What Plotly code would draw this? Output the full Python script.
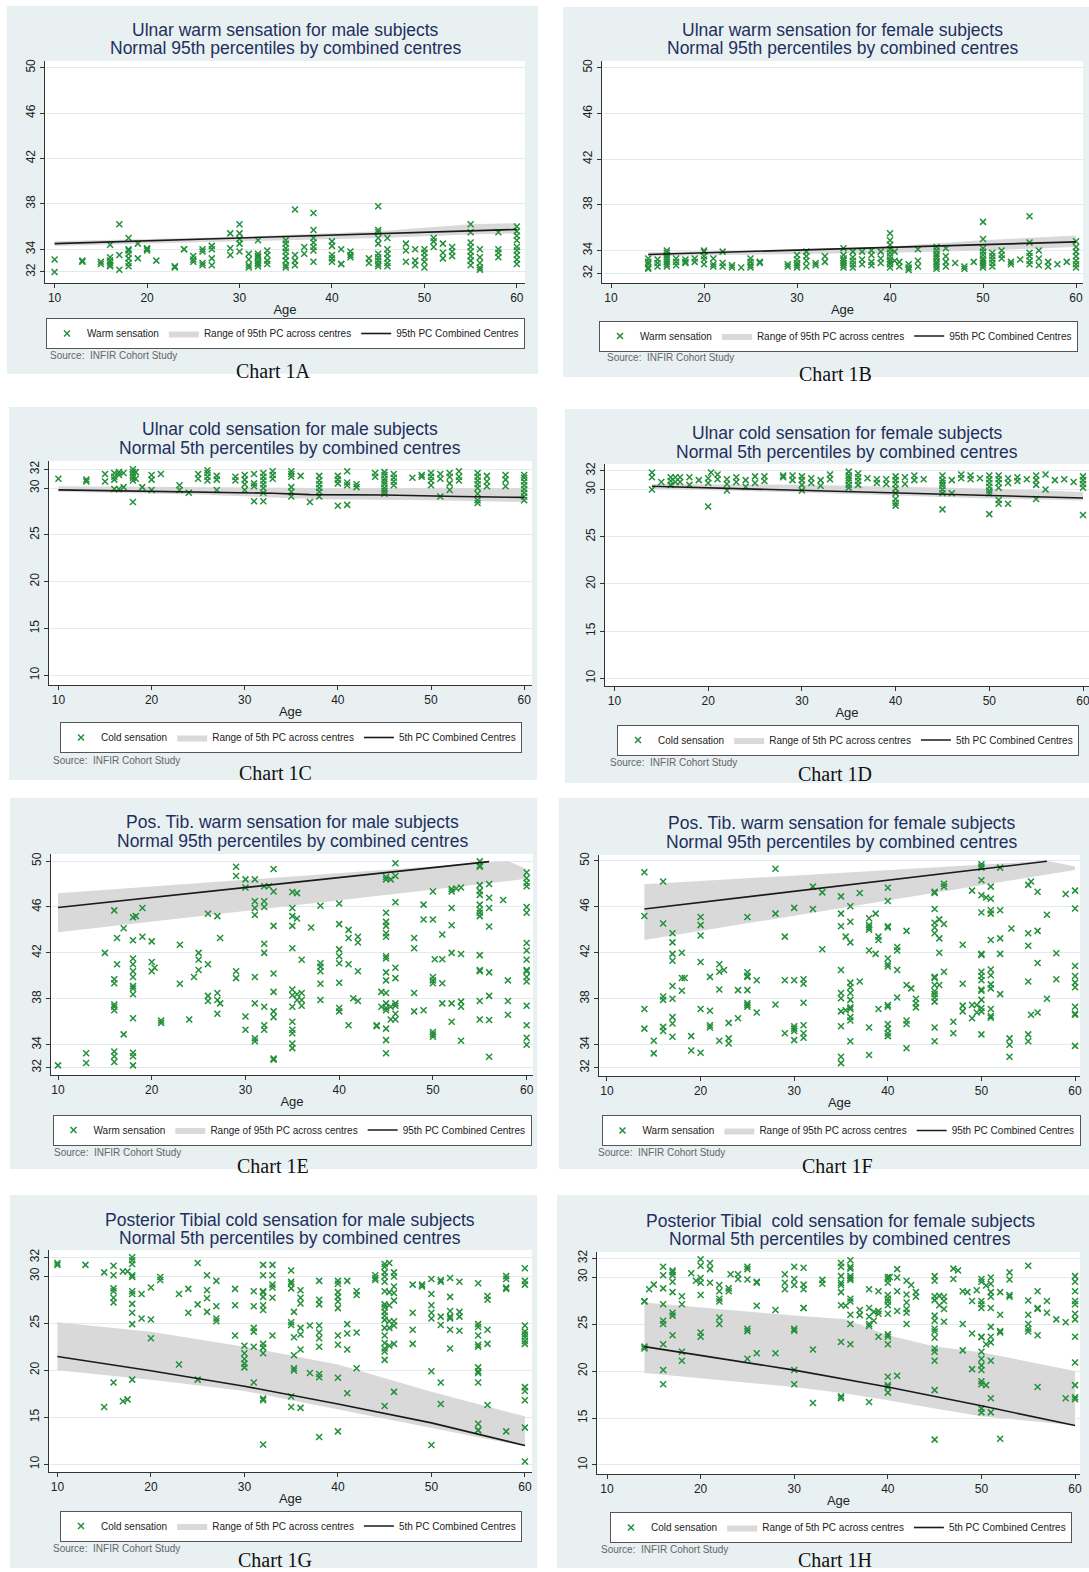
import plotly.graph_objects as go

W, H = 1089, 1572
SANS = "Liberation Sans, Arial, Helvetica, sans-serif"
SERIF = "Liberation Serif, Times New Roman, serif"
GREEN = "#24903a"
BAND = "#d9d9d9"
PANEL_BG = "#e8f0f2"
TITLE_C = "#1f2f5c"

WARM_TICKS = [32, 34, 38, 42, 46, 50]
COLD_TICKS = [10, 15, 20, 25, 30, 32]
X_TICKS = [10, 20, 30, 40, 50, 60]

# ---------------- 1A Ulnar warm, male ----------------
ages_1a = [10, 13, 15, 16, 17, 18, 19, 20, 21, 23, 24, 25, 26, 27, 29, 30, 31, 32, 33, 35,
           36, 37, 38, 40, 41, 42, 44, 45, 46, 48, 49, 50, 51, 52, 53, 55, 56, 58, 60]
vals_1a = [[32.0, 33.1], [32.9, 33.0], [32.7, 32.9], [34.4, 33.3, 33.0, 32.8, 32.6, 32.5],
           [36.2, 33.5, 32.2], [35.0, 34.0, 33.9, 33.6, 33.2, 32.8, 32.5], [34.5, 33.2],
           [34.0, 34.1, 33.9], [33.0], [32.5, 32.4], [34.0, 34.0], [33.4, 32.9, 33.1],
           [34.0, 33.8, 32.8, 32.6], [34.3, 34.0, 33.2, 32.6], [35.4, 34.1, 33.5],
           [36.2, 35.4, 34.9, 34.5, 33.8], [33.6, 33.1, 32.6, 32.4],
           [34.8, 33.6, 33.4, 33.3, 33.0, 32.8, 32.7, 32.5], [33.9, 33.5, 33.0, 32.7],
           [34.8, 34.5, 34.1, 33.8, 33.4, 33.0, 32.6, 32.4], [37.5, 33.5, 33.0, 32.6],
           [34.2, 33.6], [37.2, 35.7, 35.0, 34.6, 34.2, 33.9, 32.9], [34.7, 34.3, 33.5, 33.2, 32.9],
           [34.0, 32.7, 32.7], [33.8, 33.5, 33.3], [32.8, 33.2],
           [37.8, 35.7, 35.5, 35.0, 34.5, 33.6, 33.3, 33.0, 32.7, 32.5],
           [35.0, 34.0, 33.6, 33.2, 32.8, 32.5], [34.5, 33.9, 32.9], [34.0, 33.0, 32.6],
           [34.0, 33.7, 33.3, 32.9, 32.4], [35.0, 34.7, 34.2], [34.5, 33.7, 33.2], [34.2, 33.8, 33.4],
           [36.2, 35.5, 34.6, 34.2, 33.8, 33.4, 33.0, 32.6], [34.0, 33.3, 32.8, 32.4, 32.2],
           [35.5, 34.0, 33.7, 33.3], [36.0, 35.6, 35.2, 34.8, 34.2, 33.9, 33.5, 33.1, 32.7]]
band_x_1a = [10, 30, 45, 55, 60]
band_hi_1a = [34.7, 35.1, 35.6, 36.2, 36.3]
band_lo_1a = [34.3, 34.7, 35.0, 35.3, 35.4]
line_x_1a = [10, 60]
line_y_1a = [34.5, 35.75]

# ---------------- 1B Ulnar warm, female ----------------
ages_1b = [14, 15, 16, 17, 18, 19, 20, 21, 22, 23, 24, 25, 26, 29, 30, 31, 32, 33, 35, 36, 37,
           38, 39, 40, 40.5, 41, 42, 43, 45, 46, 47, 48, 49, 50, 51, 52, 53, 54, 55, 56, 57, 58, 59, 60]
vals_1b = [[33.3, 33.0, 32.8, 32.5, 32.4], [33.2, 32.9, 32.6],
           [34.0, 33.8, 33.6, 33.4, 33.2, 33.0, 32.8, 32.6], [33.3, 33.0, 32.7], [33.2, 32.9, 33.0],
           [33.3, 33.0], [34.0, 33.9, 33.5, 33.2, 32.8], [33.3, 32.8, 32.6], [33.9, 32.9, 32.6],
           [32.7, 32.5], [32.5], [33.3, 33.0, 32.7, 32.5], [33.0, 32.9], [32.8, 32.6],
           [33.6, 33.2, 32.9, 32.7, 32.5], [33.9, 33.5, 33.1, 32.6], [32.9, 32.7], [33.5, 33.0],
           [34.2, 33.6, 33.3, 33.1, 32.9, 32.7, 32.5], [33.9, 33.4, 33.1, 32.8, 32.5],
           [33.9, 33.2, 32.8], [34.0, 33.6, 33.0, 32.7], [33.9, 33.3, 32.9],
           [35.5, 34.9, 34.5, 34.1, 33.8, 33.5, 33.2, 33.0, 32.8, 32.5], [33.9, 33.1], [33.0, 32.6],
           [32.8, 32.5, 32.3], [34.1, 33.1, 32.6], [34.3, 34.0, 33.7, 33.5, 33.3, 33.0, 32.8, 32.6, 32.4],
           [34.2, 33.5, 33.0, 32.6], [32.9], [32.6, 32.4], [33.0],
           [36.5, 35.0, 34.2, 33.9, 33.6, 33.3, 33.1, 32.9, 32.7, 32.5], [33.8, 33.5, 33.2, 32.9, 32.6],
           [34.0, 33.6, 33.3], [33.0, 32.8], [33.2], [37.0, 34.7, 33.8, 33.5, 33.1, 32.8],
           [34.0, 33.3, 32.7], [33.0, 32.6], [32.8], [33.0], [34.8, 34.3, 33.9, 33.5, 33.1, 32.8, 32.5]]
band_x_1b = [14, 30, 40, 50, 60]
band_hi_1b = [33.85, 34.1, 34.35, 34.9, 35.3]
band_lo_1b = [33.5, 33.7, 33.8, 34.0, 34.3]
line_x_1b = [14, 60]
line_y_1b = [33.65, 34.75]

# ---------------- 1C Ulnar cold, male ----------------
ages_1c = [10, 13, 15, 16, 16.5, 17, 18, 18.3, 19, 20, 21, 23, 24, 25, 26, 27, 29, 30, 31, 32, 33,
           35, 36, 37, 38, 40, 41, 42, 44, 45, 46, 48, 49, 50, 51, 52, 53, 55, 56, 58, 60]
vals_1c = [[31.0], [30.9, 30.7], [31.5, 30.7], [31.6, 31.2, 30.9, 29.9], [31.7, 31.4, 29.9],
           [31.6, 30.1], [32.0, 31.7, 31.4, 31.1, 30.8, 28.5], [31.7, 31.0], [30.1],
           [31.4, 30.9, 29.8], [31.5], [30.3, 29.8], [29.5], [31.5, 31.0], [31.9, 31.6, 31.2, 30.8],
           [31.3, 30.9, 29.8], [31.2, 30.8], [31.4, 30.9, 30.4, 29.8], [31.5, 30.5, 30.2, 28.6],
           [31.6, 31.2, 30.8, 30.4, 30.0, 29.5, 28.6], [31.8, 31.4, 31.0],
           [31.8, 31.5, 31.2, 30.1, 29.6, 29.1], [31.3], [28.5], [31.3, 30.8, 30.4, 30.0, 29.6, 29.1],
           [31.3, 30.9, 30.5, 28.1], [31.8, 30.6, 30.3, 28.2], [30.4, 30.1], [31.6, 31.2],
           [31.7, 31.4, 31.0, 30.7, 30.4, 30.0, 29.7, 29.4], [31.5, 31.1, 30.7, 30.3], [31.1],
           [31.4, 31.2], [31.6, 31.2, 30.8, 30.3], [31.5, 31.0, 29.1], [31.6, 31.2, 30.5, 29.8],
           [31.8, 31.2, 30.8], [31.6, 31.2, 30.8, 30.4, 30.0, 29.4, 28.7, 28.4], [31.3, 30.7, 30.2],
           [31.4, 30.9, 30.2], [31.4, 31.1, 30.7, 30.3, 29.9, 29.5, 29.1, 28.7]]
band_x_1c = [10, 25, 38, 50, 60]
band_hi_1c = [30.2, 30.1, 30.0, 30.0, 30.0]
band_lo_1c = [29.6, 29.3, 28.8, 28.7, 28.5]
line_x_1c = [10, 13, 23, 33, 37, 45, 53, 60]
line_y_1c = [29.8, 29.75, 29.6, 29.45, 29.3, 29.25, 29.1, 29.0]

# ---------------- 1D Ulnar cold, female ----------------
ages_1d = [14, 15, 16, 16.5, 17, 18, 19, 20, 20.3, 21, 22, 23, 24, 25, 26, 28, 29, 30, 31, 32,
           33, 35, 36, 37, 38, 39, 40, 41, 42, 43, 45, 46, 47, 48, 49, 50, 51, 52, 53, 54,
           55, 56, 57, 58, 59, 60]
vals_1d = [[31.8, 31.3, 30.0], [30.8], [31.3, 30.9, 30.5], [31.3, 30.8], [31.3, 30.8], [31.3, 30.5],
           [31.0], [31.2, 30.7, 28.2], [31.8], [31.6, 31.1], [31.1, 30.6, 29.9], [31.3, 30.8],
           [31.0, 30.3], [31.4, 30.7], [31.4, 30.9], [31.5, 31.3], [31.5, 31.0],
           [31.4, 31.0, 30.5, 29.9], [31.2, 30.7], [31.0, 30.4], [31.6, 31.1],
           [31.9, 31.5, 31.2, 30.9, 30.5, 30.2], [31.7, 31.3, 30.9, 30.5], [31.2], [31.1, 30.7],
           [31.1, 30.6], [31.4, 31.0, 30.6, 30.1, 29.6, 29.0, 28.6, 28.3], [31.3, 30.6], [31.5, 31.0],
           [31.1], [31.5, 31.0, 30.7, 30.4, 30.0, 29.6, 27.9], [31.0, 29.6], [31.6, 31.2], [31.5, 31.1],
           [31.2], [31.5, 31.1, 30.7, 30.3, 29.9, 29.6, 27.4], [31.5, 31.1, 30.7, 30.2, 28.9, 28.5],
           [31.2, 30.7, 28.5], [31.3, 30.9], [31.1], [31.5, 31.0, 30.5, 29.0], [31.6, 30.0], [31.0],
           [31.1], [30.8], [31.4, 31.0, 30.6, 30.2, 27.3]]
band_x_1d = [14, 30, 40, 50, 60]
band_hi_1d = [30.6, 30.5, 30.3, 30.1, 29.75]
band_lo_1d = [30.05, 29.7, 29.35, 29.05, 28.85]
line_x_1d = [14, 60]
line_y_1d = [30.35, 29.1]

# ---------------- 1E Pos. Tib. warm, male ----------------
ages_1e = [10, 13, 15, 16, 16.3, 17, 18, 18.3, 19, 20, 20.3, 21, 23, 24, 24.5, 25, 26, 27, 27.3, 29,
           30, 31, 32, 32.5, 33, 35, 35.5, 36, 37, 38, 40, 41, 41.5, 42, 44, 44.5, 45, 45.5, 46, 48,
           49, 50, 50.2, 51, 52, 52.5, 53, 55, 56, 57.5, 58, 60]
vals_1e = [[32.2], [32.4, 33.25], [42.0], [45.7, 39.7, 39.35, 37.5, 37.0, 37.3, 33.4, 33.0, 32.5],
           [43.3, 41.0], [44.15, 34.9],
           [45.1, 43.1, 41.5, 41.0, 40.4, 39.9, 39.1, 38.9, 38.4, 36.3, 33.3, 33.0, 32.2],
           [45.2], [45.9, 43.4], [43.0, 41.2, 40.4], [40.7], [35.9, 36.1], [42.7, 39.3], [36.2],
           [39.9], [41.4, 42.0, 40.5], [41.0, 38.25, 37.8, 45.4], [45.2, 38.5, 37.9, 36.7],
           [43.3, 37.6], [49.5, 48.7, 40.4, 39.8], [48.4, 47.7, 36.45, 35.3],
           [48.4, 46.5, 45.9, 45.3, 39.9, 37.6, 34.55, 34.3],
           [47.8, 46.5, 46.0, 42.8, 42.0, 37.3, 35.7, 35.3], [47.8],
           [47.35, 49.3, 44.35, 38.6, 36.4, 32.8, 32.7, 36.9, 40.2],
           [47.3, 45.9, 45.2, 44.35, 42.4, 38.8, 38.3, 37.3, 36.0, 35.3, 35.0, 34.1, 33.7],
           [47.2, 45.0, 38.4, 37.9], [41.4, 38.5, 37.9, 37.4], [44.2],
           [46.1, 41.1, 40.8, 40.4, 39.3, 37.9], [46.3, 44.5, 42.3, 41.7, 41.1, 39.4, 37.2, 36.9],
           [44.0, 43.3, 41.0, 35.7], [38.05], [43.4, 42.9, 40.4, 37.8], [35.7, 35.6], [38.6, 37.3],
           [48.6, 48.4, 45.5, 44.7, 44.35, 43.7, 43.4, 41.7, 41.5, 40.3, 39.6, 38.5, 37.6, 37.2,
            37.0, 35.4, 34.4, 33.25],
           [48.4, 37.3, 36.2], [49.8, 48.7, 46.4, 40.7, 39.8, 37.6, 37.4, 36.7, 36.2],
           [43.3, 42.4, 38.5, 36.9], [46.2, 44.9, 37.0], [47.35, 44.9, 39.9, 39.6, 39.35, 35.1, 34.9, 34.7],
           [41.45], [43.6, 41.45, 39.35, 37.6], [47.35, 47.55, 45.9, 44.4, 42.0, 37.6, 36.0], [47.6],
           [47.7, 41.9, 37.75, 37.3, 34.35],
           [47.9, 47.4, 47.05, 46.2, 45.75, 45.5, 45.2, 41.8, 40.5, 40.4, 37.8, 36.2, 49.97, 49.6, 49.5],
           [48.0, 46.8, 45.9, 44.3, 40.3, 38.25, 36.15, 32.95], [46.6], [39.6, 37.8, 36.6],
           [49.0, 48.5, 48.1, 47.8, 46.0, 45.5, 42.85, 42.2, 41.4, 40.5, 40.4, 39.9, 39.5, 37.4,
            35.7, 34.6, 34.0]]
band_x_1e = [10, 58, 60]
band_hi_1e = [47.2, 50.0, 49.3]
band_lo_1e = [43.8, 48.25, 48.45]
line_x_1e = [10, 56]
line_y_1e = [45.95, 49.95]

# ---------------- 1F Pos. Tib. warm, female ----------------
ages_1f = [14, 15, 16, 17, 18, 18.3, 19, 20, 21, 22, 22.5, 23, 24, 25, 26, 28, 29, 30, 31, 32,
           33, 35, 35.5, 36, 37, 38, 38.7, 39, 40, 41, 42, 42.5, 43, 45, 45.5, 46, 47, 48, 49, 49.5,
           50, 50.5, 51, 52, 53, 53.2, 55, 55.3, 56, 57, 58, 59, 60]
vals_1f = [[49.0, 45.2, 37.1, 35.4], [33.25, 34.35], [48.2, 44.55, 38.2, 37.9, 35.55, 35.2],
           [43.7, 42.9, 41.9, 41.3, 39.1, 38.0, 36.4, 35.85, 34.7], [39.8, 38.7, 42.0], [39.8],
           [34.75, 33.5], [45.1, 44.4, 43.5, 41.2, 37.1, 33.3], [39.9, 36.95, 35.7, 35.5],
           [41.0, 40.35, 38.8, 34.35], [40.5], [35.9, 34.55, 34.1], [36.3, 38.75],
           [45.1, 40.3, 40.0, 38.75, 37.6, 37.45, 37.3, 39.9], [39.6, 36.8], [49.3, 45.4, 37.5],
           [43.4, 39.6, 35.0], [45.9, 39.6, 35.6, 35.4, 35.2, 34.4], [39.7, 39.3, 37.65, 35.7, 35.0, 34.6],
           [45.8, 47.75], [47.25, 42.3], [46.9, 45.4, 44.3, 40.5, 38.5, 38.05, 36.9, 35.6, 32.95, 32.4],
           [43.4, 37.0], [46.05, 44.7, 42.9, 39.4, 39.0, 38.5, 37.9, 37.25, 37.1, 36.4, 36.1, 34.3],
           [47.2, 39.5], [45.0, 44.4, 44.2, 44.0, 42.2, 35.5, 33.1], [45.4, 41.9], [43.4, 43.1, 37.1],
           [47.65, 46.5, 44.3, 44.2, 41.5, 40.8, 41.0, 37.45, 37.3, 35.8, 35.4, 35.0, 34.75],
           [42.5, 42.2, 40.5, 38.1], [43.9, 39.2, 36.1, 35.8, 33.7], [38.9], [37.25, 37.6, 38.0],
           [47.3, 47.2, 45.8, 44.6, 44.2, 43.7, 39.9, 39.8, 39.2, 38.65, 38.4, 38.1, 37.75, 35.5, 34.3],
           [44.9, 43.25, 42.0, 39.2], [48.0, 47.75, 44.5, 40.35], [36.0, 35.0], [42.7, 39.3, 36.9, 37.4],
           [36.3, 37.45, 47.4], [37.45, 36.8],
           [49.5, 49.7, 49.4, 48.3, 47.0, 45.5, 41.9, 41.8, 40.35, 39.97, 39.6, 38.8, 38.7, 37.9,
            37.2, 36.9, 34.9],
           [46.8], [47.75, 46.7, 45.7, 45.4, 43.1, 40.55, 40.05, 39.25, 38.9, 36.35, 36.5, 37.1],
           [49.4, 45.7, 43.25, 41.9, 38.4], [34.0, 32.95, 34.55], [44.1],
           [47.9, 43.7, 42.6, 39.5, 34.3, 34.9], [48.2, 36.6], [47.3, 43.9, 41.1, 36.8], [45.3, 38.0],
           [41.95, 39.7], [47.1], [47.4, 45.85, 40.85, 39.97, 39.4, 39.0, 37.3, 36.6, 36.7, 33.9]]
band_x_1f = [14, 57, 60]
band_hi_1f = [47.95, 50.0, 49.5]
band_lo_1f = [43.1, 48.8, 49.2]
line_x_1f = [14, 57]
line_y_1f = [45.8, 49.95]

# ---------------- 1G Posterior Tibial cold, male ----------------
ages_1g = [10, 13, 15, 16, 17, 17.5, 18, 19, 20, 21, 23, 24, 25, 26, 27, 29, 30, 31, 32, 33, 35,
           35.3, 36, 37, 38, 40, 41, 42, 44, 45, 45.5, 46, 48, 49, 50, 51, 52, 53, 55, 56, 58, 60]
vals_1g = [[31.4, 31.2], [31.2], [30.4, 16.1], [31.1, 30.1, 28.7, 28.4, 27.7, 27.2, 18.7], [30.5, 16.7],
           [30.5, 16.9], [32.0, 31.7, 31.3, 30.1, 29.9, 28.4, 28.1, 27.05, 26.1, 24.9, 19.0],
           [28.1, 25.5], [28.8, 25.4, 23.4], [29.9, 29.6], [28.1, 20.6], [28.65, 26.1],
           [31.4, 27.0, 19.0], [30.1, 28.5, 27.65, 26.2], [29.5, 26.8, 25.5, 25.2], [28.65, 26.9, 23.7],
           [22.6, 21.8, 21.2, 20.7, 20.3], [28.4, 26.8, 24.5, 24.1, 22.5, 18.7],
           [31.2, 30.1, 28.4, 28.3, 27.8, 26.9, 26.4, 22.8, 22.4, 21.8, 17.0, 16.8, 12.1],
           [31.2, 30.1, 29.1, 28.8, 27.7, 23.7], [30.6, 29.4, 29.2, 28.7, 25.1, 24.8, 17.2, 16.1],
           [26.2, 23.5, 21.6, 20.2, 19.96], [28.5, 27.7, 27.1, 24.5, 23.8, 22.2, 16.0], [24.75, 19.7],
           [29.5, 27.5, 27.0, 24.75, 24.0, 23.4, 22.5, 19.25, 19.6, 12.9],
           [29.5, 29.2, 28.3, 27.8, 27.3, 26.6, 23.7, 22.7, 19.2, 13.5], [29.5, 24.9, 23.9, 22.2, 17.55],
           [28.4, 28.0, 24.0, 20.2], [30.1, 29.8, 29.6],
           [31.3, 31.0, 30.4, 29.96, 29.4, 28.4, 27.0, 26.7, 26.2, 25.8, 25.35, 24.5, 23.7, 22.9,
            22.3, 22.0, 21.1, 16.2],
           [31.4, 28.3, 26.9, 25.2, 24.5, 22.6], [30.4, 29.96, 28.9, 28.2, 27.4, 25.2, 24.75, 22.8, 17.7],
           [29.1, 26.1, 24.3, 22.8], [29.1, 28.9], [29.7, 28.1, 26.9, 26.1, 25.5, 19.9, 12.05],
           [29.6, 29.4, 25.7, 24.8, 18.7, 16.4], [29.8, 27.8, 26.3, 25.7, 24.3, 22.3, 25.5],
           [29.4, 26.2, 25.7, 24.2],
           [29.25, 24.9, 24.6, 23.7, 22.7, 22.5, 20.3, 19.9, 19.7, 18.7, 14.3, 13.65, 13.6],
           [27.9, 27.5, 24.3, 22.8, 16.3], [30.0, 29.7, 28.8, 28.65, 13.5],
           [30.85, 29.5, 29.1, 24.75, 24.1, 23.8, 23.5, 23.1, 22.8, 18.2, 17.8, 16.8, 13.9, 10.3]]
band_x_1g = [10, 20, 30, 40, 50, 60]
band_hi_1g = [25.1, 24.1, 22.5, 20.6, 17.7, 15.1]
band_lo_1g = [20.0, 19.0, 17.8, 15.8, 13.85, 11.9]
line_x_1g = [10, 20, 30, 40, 50, 60]
line_y_1g = [21.45, 19.95, 18.3, 16.4, 14.4, 12.0]

# ---------------- 1H Posterior Tibial cold, female ----------------
ages_1h = [14, 14.5, 15, 16, 17, 18, 19, 19.5, 20, 21, 22, 23, 23.2, 24, 25, 26, 28, 29, 30, 31,
           32, 33, 35, 35.5, 36, 37, 38, 38.5, 39, 40, 40.2, 41, 42, 42.5, 43, 45, 45.5, 46, 47,
           47.5, 48, 48.5, 49, 49.5, 50, 50.5, 51, 52, 53, 55, 56, 57, 58, 59, 60]
vals_1h = [[27.45, 27.4, 22.4, 22.6], [28.7], [29.2], [31.1, 30.2, 28.8, 27.1, 25.35, 25.0, 22.85, 20.1, 18.6],
           [30.7, 30.5, 30.2, 29.5, 28.4, 26.2, 25.9, 23.8], [27.95, 27.1, 22.05, 21.1], [30.4], [29.6],
           [31.9, 31.2, 29.9, 29.4, 28.1, 24.1, 23.65], [31.5, 30.85, 29.4],
           [29.15, 28.5, 27.7, 27.4, 25.7, 25.0], [28.8, 28.5], [30.3], [29.8, 30.3],
           [31.1, 30.85, 29.75, 24.25, 24.5, 21.3], [29.5, 29.4, 26.95, 21.9], [26.5, 21.9],
           [30.3, 29.4, 28.7], [31.1, 29.8, 29.15, 24.5, 24.3, 20.1, 18.6], [31.0, 29.2, 28.7, 26.7, 26.7],
           [22.3, 16.6], [29.7, 29.3], [31.5, 31.1, 30.1, 29.4, 29.15, 28.4, 27.0, 23.1, 17.3, 17.1],
           [26.95], [31.8, 31.1, 30.9, 30.1, 29.9, 29.7, 27.7, 27.4, 26.0, 25.0, 22.85], [25.95, 26.5],
           [28.7, 26.7, 25.8, 25.0, 24.8, 16.7], [26.3, 25.35], [28.5, 26.4, 26.1, 23.65],
           [30.0, 29.8, 29.4, 28.1, 27.7, 27.4, 27.0, 26.1, 23.9, 23.65, 22.85, 19.4, 18.5, 18.3, 17.7],
           [30.0], [30.85, 29.96, 28.5, 26.4, 19.5], [29.6, 28.15, 27.3, 26.6, 26.2, 25.0], [29.15],
           [28.4, 27.9],
           [30.1, 29.6, 27.95, 27.55, 25.9, 25.35, 24.5, 24.2, 23.55, 22.4, 22.05, 21.1, 17.97, 12.7],
           [27.0, 28.0], [27.9, 27.45, 26.6, 25.25], [30.9, 29.8], [30.7], [28.5, 25.0, 22.2], [28.4],
           [27.45, 24.0, 20.2], [28.6],
           [29.8, 29.5, 27.45, 27.1, 26.7, 23.65, 23.6, 22.05, 21.3, 20.6, 20.1, 18.9, 18.6, 16.0, 15.6],
           [29.1, 22.85, 18.5], [29.96, 29.3, 28.4, 27.9, 26.7, 24.7, 23.65, 23.05, 21.1, 17.1, 15.6],
           [28.4, 26.0, 24.25, 24.1, 12.8], [28.1, 27.9, 30.5, 29.75], [31.2, 27.5, 26.0, 25.0, 24.5, 24.2],
           [28.5, 26.7, 26.6, 23.8, 18.3], [27.45, 26.2], [25.5], [25.2, 17.1],
           [30.1, 29.5, 28.5, 27.45, 27.1, 26.1, 25.5, 23.65, 20.9, 18.5, 17.2, 17.0]]
band_x_1h = [14, 30, 35.5, 40, 45, 50, 60]
band_hi_1h = [27.3, 25.9, 25.5, 23.8, 22.6, 22.0, 20.0]
band_lo_1h = [19.8, 18.3, 17.6, 16.9, 16.0, 15.2, 14.2]
line_x_1h = [14, 30, 40, 50, 60]
line_y_1h = [22.6, 20.1, 18.3, 16.3, 14.2]


def expand(ages, groups):
    assert len(ages) == len(groups), (len(ages), len(groups))
    xs, ys = [], []
    for a, g in zip(ages, groups):
        xs.extend([a] * len(g))
        ys.extend(g)
    return xs, ys


WARM = ("Warm sensation", "Range of 95th PC across centres", "95th PC Combined Centres",
        "Normal 95th percentiles by combined centres")
COLD = ("Cold sensation", "Range of 5th PC across centres", "5th PC Combined Centres",
        "Normal 5th percentiles by combined centres")

panels = [
    dict(tag="1A", d=(ages_1a, vals_1a, band_x_1a, band_hi_1a, band_lo_1a, line_x_1a, line_y_1a), k=WARM,
         t="Ulnar warm sensation for male subjects",
         box=(7, 6, 538, 374), plot=(45, 61, 525, 283), xr=(8.96, 60.88), yr=(31.03, 50.59),
         tc=(285, 30, 48), leg=(285.5, 333.5), src=(48, 356), chart=(273, 371)),
    dict(tag="1B", d=(ages_1b, vals_1b, band_x_1b, band_hi_1b, band_lo_1b, line_x_1b, line_y_1b), k=WARM,
         t="Ulnar warm sensation for female subjects",
         box=(563, 7, 1089, 377), plot=(602, 61, 1083, 283), xr=(9.03, 60.75), yr=(31.15, 50.59),
         tc=(842, 30, 48), leg=(838.5, 336), src=(605, 358), chart=(836, 374)),
    dict(tag="1C", d=(ages_1c, vals_1c, band_x_1c, band_hi_1c, band_lo_1c, line_x_1c, line_y_1c), k=COLD,
         t="Ulnar cold sensation for male subjects",
         box=(9, 407, 537, 780), plot=(49, 461, 532, 685), xr=(8.99, 60.84), yr=(8.96, 32.89),
         tc=(290, 429, 448), leg=(291, 737.5), src=(51, 760), chart=(275, 773)),
    dict(tag="1D", d=(ages_1d, vals_1d, band_x_1d, band_hi_1d, band_lo_1d, line_x_1d, line_y_1d), k=COLD,
         t="Ulnar cold sensation for female subjects",
         box=(565, 409, 1089, 783), plot=(605, 464, 1089, 686), xr=(8.99, 60.64), yr=(9.18, 32.71),
         tc=(847, 433, 452), leg=(848, 740), src=(608, 762), chart=(835, 774)),
    dict(tag="1E", d=(ages_1e, vals_1e, band_x_1e, band_hi_1e, band_lo_1e, line_x_1e, line_y_1e), k=WARM,
         t="Pos. Tib. warm sensation for male subjects",
         box=(10, 798, 537, 1169), plot=(51, 854, 533, 1075), xr=(9.25, 60.68), yr=(31.36, 50.61),
         tc=(292, 822, 841), leg=(292, 1130), src=(52, 1152), chart=(273, 1166)),
    dict(tag="1F", d=(ages_1f, vals_1f, band_x_1f, band_hi_1f, band_lo_1f, line_x_1f, line_y_1f), k=WARM,
         t="Pos. Tib. warm sensation for female subjects",
         box=(559, 798, 1089, 1169), plot=(599, 855, 1080, 1076), xr=(9.15, 60.53), yr=(31.28, 50.5),
         tc=(841, 823, 842), leg=(841, 1130.5), src=(596, 1152), chart=(837, 1166)),
    dict(tag="1G", d=(ages_1g, vals_1g, band_x_1g, band_hi_1g, band_lo_1g, line_x_1g, line_y_1g), k=COLD,
         t="Posterior Tibial cold sensation for male subjects",
         box=(10, 1195, 537, 1568), plot=(49, 1250, 532, 1472), xr=(9.1, 60.76), yr=(9.18, 32.78),
         tc=(290, 1220, 1238), leg=(291, 1526), src=(51, 1548), chart=(275, 1560)),
    dict(tag="1H", d=(ages_1h, vals_1h, band_x_1h, band_hi_1h, band_lo_1h, line_x_1h, line_y_1h), k=COLD,
         t="Posterior Tibial  cold sensation for female subjects",
         box=(557, 1195, 1089, 1568), plot=(597, 1252, 1080, 1474), xr=(8.93, 60.53), yr=(9.04, 32.67),
         tc=(840, 1221, 1239), leg=(841, 1527.5), src=(599, 1549), chart=(835, 1560)),
]


def px(x):
    return x / W


def py(y):
    return 1 - y / H


fig = go.Figure()
shapes, annotations = [], []
layout = dict(width=W, height=H, margin=dict(l=0, r=0, t=0, b=0),
              paper_bgcolor="white", plot_bgcolor="rgba(0,0,0,0)", showlegend=True,
              font=dict(family=SANS, color="#222"))

for i, p in enumerate(panels, start=1):
    s = "" if i == 1 else str(i)
    xa, ya = "x" + s, "y" + s
    ages, vals, bx, bhi, blo, lx, ly = p["d"]
    k = p["k"]
    lg = "legend" + s
    xs, ys = expand(ages, vals)

    fig.add_trace(go.Scatter(
        x=list(bx) + list(bx)[::-1], y=list(bhi) + list(blo)[::-1], fill="toself",
        fillcolor=BAND, mode="lines", line=dict(width=0, color=BAND), name=k[1],
        xaxis=xa, yaxis=ya, legend=lg, legendrank=2, hoverinfo="skip"))
    fig.add_trace(go.Scatter(
        x=xs, y=ys, mode="markers", name=k[0],
        marker=dict(symbol="x-thin", size=6, line=dict(width=1.5, color=GREEN), color=GREEN),
        xaxis=xa, yaxis=ya, legend=lg, legendrank=1))
    fig.add_trace(go.Scatter(
        x=lx, y=ly, mode="lines", name=k[2], line=dict(color="#1a1a1a", width=1.6),
        xaxis=xa, yaxis=ya, legend=lg, legendrank=3))

    x0, y0, x1, y1 = p["plot"]
    layout["xaxis" + s] = dict(
        domain=[px(x0), px(x1)], range=list(p["xr"]), anchor=ya, tickvals=X_TICKS,
        ticks="outside", ticklen=4, tickcolor="#333", showline=True, linecolor="#333", linewidth=1,
        showgrid=False, zeroline=False, automargin=False, ticklabeloverflow="allow",
        tickfont=dict(size=12, family=SANS, color="#222"),
        title=dict(text="Age", font=dict(size=13, family=SANS, color="#222"), standoff=0))
    layout["yaxis" + s] = dict(
        domain=[py(y1), py(y0)], range=list(p["yr"]), anchor=xa,
        tickvals=WARM_TICKS if k is WARM else COLD_TICKS, tickangle=-90,
        ticks="outside", ticklen=4, tickcolor="#333", showline=True, linecolor="#333", linewidth=1,
        showgrid=True, gridcolor="#e2eaec", gridwidth=1, zeroline=False, automargin=False,
        tickfont=dict(size=12, family=SANS, color="#222"))

    bx0, by0, bx1, by1 = p["box"]
    shapes.append(dict(type="rect", xref="paper", yref="paper", x0=px(bx0), x1=px(bx1),
                       y0=py(by1), y1=py(by0), fillcolor=PANEL_BG, line=dict(width=0), layer="below"))
    shapes.append(dict(type="rect", xref=xa + " domain", yref=ya + " domain", x0=0, x1=1, y0=0, y1=1,
                       fillcolor="white", line=dict(width=0), layer="below"))

    cx, t1, t2 = p["tc"]
    annotations.append(dict(text=p["t"], x=px(cx), y=py(t1), xref="paper", yref="paper",
                            showarrow=False, xanchor="center", yanchor="middle",
                            font=dict(size=17.5, family=SANS, color=TITLE_C)))
    annotations.append(dict(text=k[3], x=px(cx), y=py(t2), xref="paper", yref="paper",
                            showarrow=False, xanchor="center", yanchor="middle",
                            font=dict(size=17.5, family=SANS, color=TITLE_C)))
    sx, sy = p["src"]
    annotations.append(dict(text="Source:  INFIR Cohort Study", x=px(sx), y=py(sy), xref="paper",
                            yref="paper", showarrow=False, xanchor="left", yanchor="middle",
                            font=dict(size=10, family=SANS, color="#666")))
    chx, chy = p["chart"]
    annotations.append(dict(text="Chart " + p["tag"], x=px(chx), y=py(chy), xref="paper",
                            yref="paper", showarrow=False, xanchor="center", yanchor="middle",
                            font=dict(size=20, family=SERIF, color="#111")))

    lcx, lcy = p["leg"]
    layout[lg] = dict(x=px(lcx), y=py(lcy), xanchor="center", yanchor="middle", orientation="h",
                      bgcolor="white", bordercolor="#555", borderwidth=1,
                      font=dict(size=10, family=SANS, color="#222"), traceorder="normal",
                      itemwidth=30, tracegroupgap=0)

layout["shapes"] = shapes
layout["annotations"] = annotations
fig.update_layout(**layout)
fig.write_html("out.html", config={"displayModeBar": False},
               post_script="document.body.style.margin='0';")
